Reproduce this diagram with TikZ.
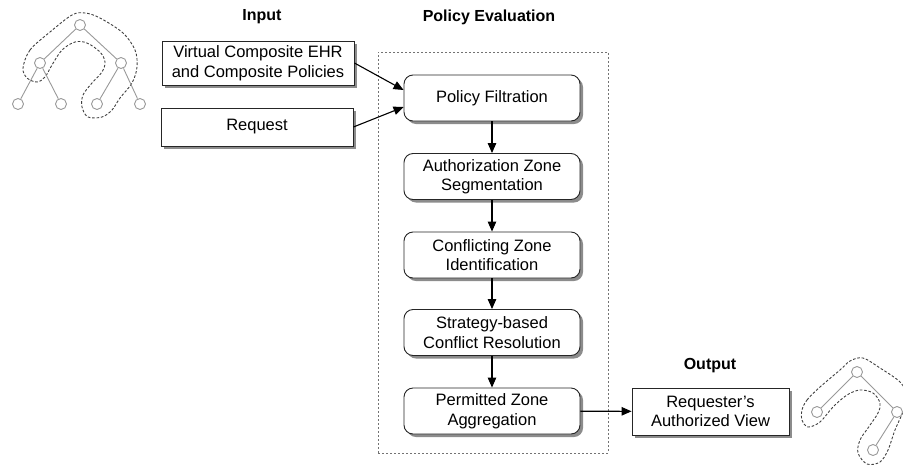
\documentclass[tikz,border=0pt]{standalone}
\usepackage{fontspec}
\setmainfont{Liberation Sans}
\usetikzlibrary{arrows.meta,shadows}
\begin{document}
\begin{tikzpicture}[x=1pt,y=-1pt,
  every node/.style={font=\fontsize{16.5}{19.5}\selectfont},
  title/.style={font=\fontsize{16}{19}\selectfont\bfseries},
  inbox/.style={draw=black!85, line width=0.9pt, fill=white, align=center, inner sep=0pt,
    drop shadow={shadow xshift=3pt, shadow yshift=-3pt, fill=black!45, opacity=1}},
  procbox/.style={inbox, rounded corners=9pt, minimum width=176pt, minimum height=46pt},
  flow/.style={line width=1.1pt, -{Triangle[length=10pt,width=8.5pt]}},
  frame/.style={draw=black!55, dash pattern=on 2pt off 2pt, line width=0.6pt, inner sep=0pt},
  tnode/.style={circle, draw=black!40, fill=white, line width=0.9pt, minimum size=11pt, inner sep=0pt},
  tedge/.style={draw=black!40, line width=0.9pt},
  group/.style={draw=black!75, line width=0.9pt, dash pattern=on 2.6pt off 1.8pt}
]
\useasboundingbox (0,0) rectangle (903,464);

% ---- titles
\node[title] (tin) at (262,17) {Input};
\node[title] (tpe) at (489,17) {Policy Evaluation};
\node[title] (tout) at (710,366) {Output};

% ---- container
\node[frame, minimum width=230pt, minimum height=401pt] (frame) at (493,252.5) {};

% ---- input boxes
\node[inbox, minimum width=192pt, minimum height=44pt] (vce) at (258,63)
  {Virtual Composite EHR\\and Composite Policies};
\node[inbox, minimum width=192pt, minimum height=38pt] (req) at (257,127) {Request};

% ---- process boxes
\node[procbox] (pf) at (492,98) {Policy Filtration};
\node[procbox] (az) at (492,176.5) {Authorization Zone\\Segmentation};
\node[procbox] (cz) at (492,255) {Conflicting Zone\\Identification};
\node[procbox] (sr) at (492,332.5) {Strategy-based\\Conflict Resolution};
\node[procbox] (pz) at (492,411) {Permitted Zone\\Aggregation};

% ---- output box
\node[inbox, minimum width=157pt, minimum height=47pt] (out) at (710.5,411.5)
  {Requester's\\Authorized View};

% ---- connectors
\draw[flow] (vce.east) -- ([yshift=8pt]pf.west);
\draw[flow] (req.east) -- ([yshift=-9pt]pf.west);
\draw[flow] (pf) -- (az);
\draw[flow] (az) -- (cz);
\draw[flow] (cz) -- (sr);
\draw[flow] (sr) -- (pz);
\draw[flow] (pz) -- (out);

% ---- left tree
\draw[group] plot[smooth cycle, tension=0.55] coordinates {
  (23,68) (30,50) (50,32) (72,15) (85,13) (100,18) (123,33) (135,50) (137,67)
  (132,83) (120,98) (112,110) (102,117) (88,117) (82,107) (83,95) (92,83)
  (102,72) (105,62) (100,52) (87,43) (75,42) (62,50) (52,65) (45,77) (37,82) (27,78)};
\node[tnode] (lr) at (80,25) {};
\node[tnode] (la) at (40,63) {};
\node[tnode] (lb) at (121,63) {};
\node[tnode] (l1) at (18,104) {};
\node[tnode] (l2) at (61,104) {};
\node[tnode] (l3) at (97,104) {};
\node[tnode] (l4) at (140,104) {};
\draw[tedge] (lr) -- (la);
\draw[tedge] (lr) -- (lb);
\draw[tedge] (la) -- (l1);
\draw[tedge] (la) -- (l2);
\draw[tedge] (lb) -- (l3);
\draw[tedge] (lb) -- (l4);

% ---- right tree
\draw[group] plot[smooth cycle, tension=0.55] coordinates {
  (802,410) (807,400) (820,387) (840,370) (850,361) (863,358) (880,368) (900,382)
  (908,397) (903,412) (895,430) (888,450) (880,462) (867,464) (858,453) (860,440)
  (868,428) (878,413) (880,403) (873,393) (860,390) (847,395) (833,407) (820,422)
  (808,427) (802,420)};
\node[tnode] (rr) at (857,372) {};
\node[tnode] (ra) at (817,412) {};
\node[tnode] (rb) at (897,412) {};
\node[tnode] (rl) at (873,450) {};
\draw[tedge] (rr) -- (ra);
\draw[tedge] (rr) -- (rb);
\draw[tedge] (rb) -- (rl);
\end{tikzpicture}
\end{document}
